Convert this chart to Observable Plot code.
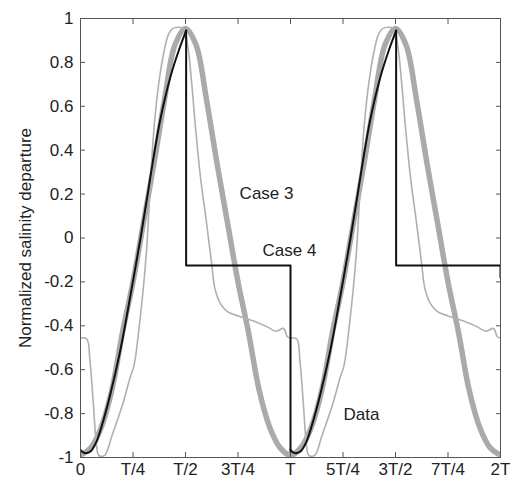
<!DOCTYPE html>
<html>
<head>
<meta charset="utf-8">
<script src="https://cdn.jsdelivr.net/npm/d3@7"></script>
<script src="https://cdn.jsdelivr.net/npm/@observablehq/plot@0.6"></script>
<style>
  body { margin: 0; background: #fff; }
  #chart svg { display: block; }
</style>
</head>
<body>
<div id="chart"></div>
<script>
// ---- data (time in units of the period T, values = normalized salinity departure) ----
const periods = [0, 1];

// x ticks and their labels
const xTicks = [0, 0.25, 0.5, 0.75, 1, 1.25, 1.5, 1.75, 2];
const xTickLabels = ["0", "T/4", "T/2", "3T/4", "T", "5T/4", "3T/2", "7T/4", "2T"];
// y ticks
const yTicks = [-1, -0.8, -0.6, -0.4, -0.2, 0, 0.2, 0.4, 0.6, 0.8, 1];

// Case 3 (thick grey), one period
const case3T = [0, 0.05, 0.1, 0.15, 0.2, 0.25, 0.3, 0.35, 0.4, 0.45, 0.5, 0.55, 0.6, 0.65, 0.7, 0.75, 0.8, 0.85, 0.9, 0.95];
const case3V = [-0.99, -0.955, -0.86, -0.69, -0.43, -0.2, 0.07, 0.34, 0.63, 0.88, 0.955, 0.88, 0.63, 0.34, 0.07, -0.2, -0.43, -0.69, -0.86, -0.955];
const case3End = -0.99;

// Case 4 (black): smooth rise, then step down, one period
const case4RiseT = [0, 0.015, 0.03, 0.05, 0.075, 0.1, 0.14, 0.19, 0.24, 0.286, 0.32, 0.35, 0.38, 0.43, 0.47, 0.503];
const case4RiseV = [-0.965, -0.978, -0.98, -0.97, -0.93, -0.86, -0.72, -0.51, -0.25, 0.0, 0.2, 0.38, 0.54, 0.74, 0.86, 0.945];
const case4StepT = [0.503, 0.503, 1.0];
const case4StepV = [0.945, -0.125, -0.125];
const case4DropV = [-0.975, -0.18]; // bottom of the drop at T, end value at 2T

// Data (thin grey), one period
const dataT = [0, 0.03, 0.045, 0.06, 0.075, 0.087, 0.115, 0.15, 0.2, 0.235, 0.255, 0.28, 0.3, 0.315, 0.33, 0.35, 0.375, 0.4, 0.42, 0.44, 0.49, 0.51, 0.53, 0.548, 0.571, 0.6, 0.625, 0.64, 0.667, 0.7, 0.75, 0.83, 0.89, 0.93, 0.967, 0.985];
const dataV = [-0.455, -0.46, -0.56, -0.74, -0.93, -0.99, -0.99, -0.9, -0.76, -0.64, -0.58, -0.4, -0.22, -0.05, 0.2, 0.5, 0.72, 0.86, 0.93, 0.955, 0.955, 0.88, 0.7, 0.5, 0.28, 0.07, -0.12, -0.23, -0.3, -0.335, -0.355, -0.38, -0.405, -0.425, -0.412, -0.45];
const dataEnd = -0.455;

// annotation labels
const labelText = ["Case 3", "Case 4", "Data"];
const labelT = [0.886, 0.995, 1.338];
const labelV = [0.203, -0.057, -0.804];

// ---- build tables ----
const case3Rows = [];
periods.forEach(k => case3T.forEach((t, i) => case3Rows.push({t: t + k, v: case3V[i]})));
case3Rows.push({t: 2, v: case3End});

const dataRows = [];
periods.forEach(k => dataT.forEach((t, i) => dataRows.push({t: t + k, v: dataV[i]})));
dataRows.push({t: 2, v: dataEnd});

const riseRows = [];
periods.forEach(k => case4RiseT.forEach((t, i) => riseRows.push({t: t + k, v: case4RiseV[i], seg: k})));

const stepRows = [];
periods.forEach(k => {
  case4StepT.forEach((t, i) => stepRows.push({t: t + k, v: case4StepV[i], seg: k}));
  stepRows.push({t: 1 + k, v: case4DropV[k], seg: k});
});

const labels = labelText.map((s, i) => ({s, t: labelT[i], v: labelV[i]}));

const fmtY = d => String(Math.round(d * 10) / 10);
const fmtX = d => xTickLabels[xTicks.indexOf(d)];

const chart = Plot.plot({
  width: 512,
  height: 484,
  marginLeft: 80,
  marginRight: 12,
  marginTop: 18,
  marginBottom: 27,
  style: {fontFamily: "'Liberation Sans', Arial, Helvetica, sans-serif", fontSize: "17px", color: "#222", background: "#fff"},
  x: {domain: [0, 2]},
  y: {domain: [-1, 1]},
  marks: [
    Plot.line(case3Rows, {x: "t", y: "v", stroke: "#aaaaaa", strokeWidth: 5.5, curve: "catmull-rom", clip: true}),
    Plot.line(dataRows, {x: "t", y: "v", stroke: "#b0b0b0", strokeWidth: 1.6, curve: "catmull-rom", clip: true}),
    Plot.line(riseRows, {x: "t", y: "v", z: "seg", stroke: "#111", strokeWidth: 2, curve: "catmull-rom", clip: true}),
    Plot.line(stepRows, {x: "t", y: "v", z: "seg", stroke: "#111", strokeWidth: 2, curve: "linear", clip: true}),
    Plot.text(labels, {x: "t", y: "v", text: "s", fill: "#222", fontSize: 17, textAnchor: "middle"}),
    Plot.frame({stroke: "#555", strokeWidth: 1}),
    Plot.axisX(xTicks, {anchor: "bottom", tickSize: -5, tickPadding: 10, tickFormat: fmtX, label: null, stroke: "#555", fill: "#222"}),
    Plot.axisX(xTicks, {anchor: "top", tickSize: -5, tickFormat: () => "", label: null, stroke: "#555"}),
    Plot.axisY(yTicks, {anchor: "left", tickSize: -5, tickPadding: 12, tickFormat: fmtY, stroke: "#555", fill: "#222",
      label: "Normalized salinity departure", labelAnchor: "center", labelOffset: 62, labelArrow: "none"}),
    Plot.axisY(yTicks, {anchor: "right", tickSize: -5, tickFormat: () => "", label: null, stroke: "#555"})
  ]
});
document.getElementById("chart").appendChild(chart);
</script>
</body>
</html>
